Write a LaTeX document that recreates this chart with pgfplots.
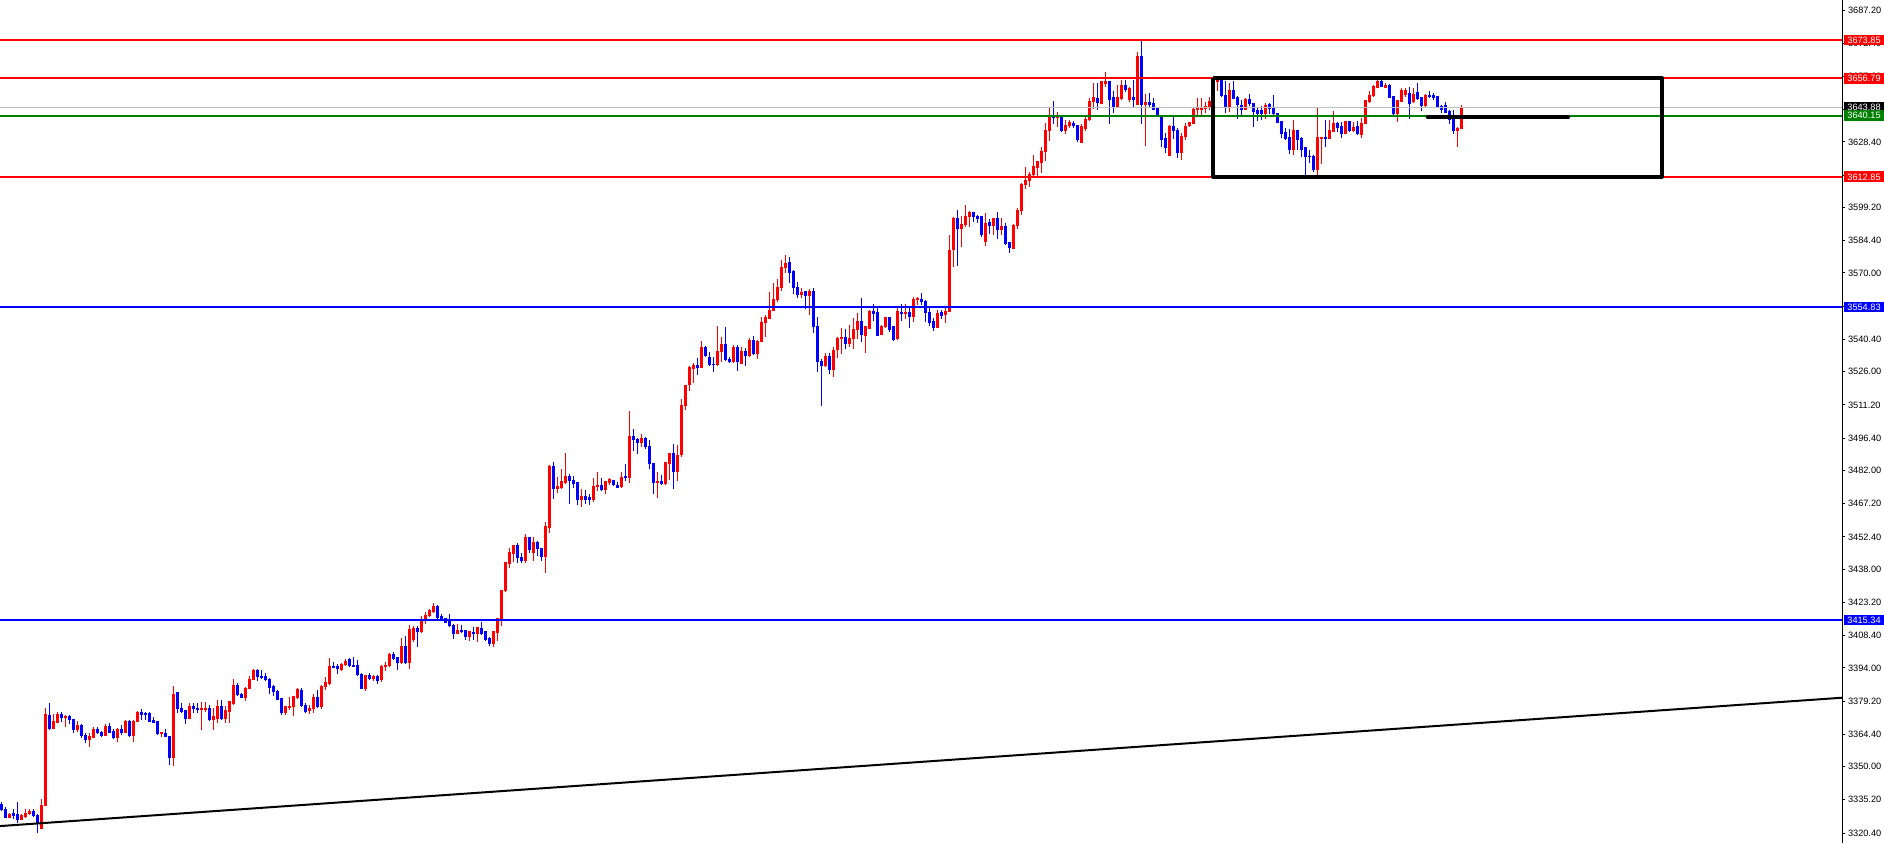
\documentclass[border=0pt]{standalone}
\usepackage{pgfplots}
\pgfplotsset{compat=1.18}
\usepackage{pgfplotstable}
\usepackage{fontspec}
\setmainfont{Liberation Sans}
\definecolor{mtgreen}{RGB}{0,128,0}
\definecolor{mtgray}{RGB}{192,192,192}
\newcommand{\lblfont}{\fontsize{4.6pt}{5pt}\selectfont}
\pgfplotstableread{
k o h l c
0 3333.3 3334.4 3330.3 3330.9
1 3330.9 3332.1 3326.9 3327.4
2 3327.4 3329.4 3326.9 3328.9
3 3329.4 3330.9 3326.5 3328.0
4 3328.7 3334.4 3325.0 3326.2
5 3326.5 3328.8 3326.2 3328.1
6 3327.7 3330.9 3326.9 3329.4
7 3328.9 3330.9 3328.4 3330.2
8 3330.2 3330.9 3327.7 3328.1
9 3328.4 3329.1 3320.5 3324.4
10 3322.2 3335.5 3322.0 3332.9
11 3332.6 3375.9 3332.3 3373.4
12 3373.0 3378.5 3366.3 3366.8
13 3366.8 3373.4 3366.6 3370.0
14 3369.7 3374.5 3369.3 3373.4
15 3373.4 3374.5 3370.0 3371.8
16 3371.9 3373.0 3367.8 3372.5
17 3372.5 3373.0 3369.0 3370.8
18 3371.1 3371.1 3365.1 3366.3
19 3366.3 3370.3 3365.6 3368.5
20 3368.5 3369.0 3362.6 3363.8
21 3364.1 3364.8 3360.4 3361.8
22 3361.8 3364.8 3358.9 3363.6
23 3363.0 3367.5 3362.6 3366.8
24 3366.8 3367.5 3364.5 3365.1
25 3365.3 3365.8 3363.0 3363.6
26 3363.8 3369.0 3363.6 3368.1
27 3368.1 3369.3 3364.8 3365.1
28 3365.6 3366.6 3362.5 3362.9
29 3362.9 3367.3 3361.1 3366.8
30 3366.8 3368.5 3364.1 3365.1
31 3365.3 3370.8 3364.8 3370.0
32 3370.0 3370.8 3363.3 3363.6
33 3363.6 3370.8 3361.1 3370.3
34 3370.0 3374.8 3370.0 3374.0
35 3374.0 3375.5 3370.8 3373.3
36 3373.7 3374.5 3370.8 3373.4
37 3373.7 3374.5 3370.0 3370.0
38 3370.5 3372.2 3369.3 3369.6
39 3370.0 3370.0 3364.1 3364.5
40 3364.8 3365.6 3363.3 3365.1
41 3364.8 3366.6 3363.0 3363.3
42 3363.6 3363.6 3350.7 3353.9
43 3353.9 3385.9 3350.2 3382.3
44 3382.9 3383.4 3373.7 3375.7
45 3376.0 3378.2 3373.7 3374.5
46 3375.2 3375.2 3369.0 3371.2
47 3371.2 3378.2 3371.2 3377.0
48 3377.0 3378.5 3373.7 3375.7
49 3376.0 3378.2 3373.7 3375.4
50 3375.5 3378.9 3366.3 3376.0
51 3375.7 3378.9 3374.5 3376.0
52 3376.0 3377.5 3370.5 3370.8
53 3370.8 3376.0 3366.3 3372.2
54 3371.2 3379.7 3369.3 3377.0
55 3377.0 3379.7 3370.8 3371.2
56 3371.2 3377.0 3369.3 3374.9
57 3374.5 3378.9 3369.6 3378.9
58 3378.2 3389.0 3377.4 3386.4
59 3386.4 3387.1 3381.5 3381.9
60 3382.2 3382.9 3380.4 3380.7
61 3380.7 3385.3 3379.4 3384.9
62 3384.9 3390.4 3384.4 3389.0
63 3388.9 3393.3 3388.6 3393.0
64 3393.0 3393.5 3388.3 3390.1
65 3390.4 3393.0 3388.9 3389.5
66 3390.1 3391.9 3388.3 3388.6
67 3389.0 3389.3 3382.3 3385.2
68 3385.6 3386.4 3381.5 3383.4
69 3383.7 3384.1 3379.7 3380.0
70 3380.4 3380.4 3373.0 3374.0
71 3374.0 3377.0 3373.0 3376.7
72 3376.4 3381.2 3375.2 3377.0
73 3376.7 3381.2 3372.7 3381.2
74 3380.7 3384.9 3380.0 3384.4
75 3384.1 3385.2 3376.4 3377.0
76 3377.4 3378.5 3374.0 3374.5
77 3374.9 3377.4 3373.3 3376.0
78 3375.7 3382.3 3374.0 3380.7
79 3380.7 3384.1 3376.0 3376.7
80 3376.7 3386.3 3375.5 3385.9
81 3385.6 3389.8 3384.1 3387.4
82 3386.8 3398.2 3386.3 3394.8
83 3394.8 3396.7 3393.8 3394.2
84 3394.8 3395.7 3391.3 3393.5
85 3393.3 3396.0 3392.7 3395.7
86 3395.3 3397.8 3394.8 3396.7
87 3397.9 3398.4 3394.2 3395.1
88 3395.3 3398.7 3394.2 3394.8
89 3395.3 3397.5 3390.4 3390.8
90 3391.3 3391.6 3384.7 3384.7
91 3384.7 3390.8 3383.8 3390.8
92 3390.8 3391.6 3388.6 3389.0
93 3389.0 3390.8 3388.3 3390.1
94 3390.1 3390.8 3386.8 3388.3
95 3388.6 3395.3 3387.8 3394.8
96 3394.5 3396.7 3392.7 3395.3
97 3394.8 3400.8 3394.5 3400.2
98 3400.0 3401.2 3397.5 3398.2
99 3398.7 3399.0 3393.0 3396.3
100 3396.3 3407.1 3395.7 3403.7
101 3403.7 3408.2 3395.7 3396.3
102 3396.3 3413.1 3393.6 3411.2
103 3406.4 3412.7 3405.7 3411.6
104 3411.6 3412.7 3403.4 3410.1
105 3410.1 3417.1 3409.4 3414.9
106 3414.9 3419.0 3413.5 3417.5
107 3417.1 3420.1 3416.5 3419.8
108 3419.0 3423.0 3418.6 3421.6
109 3421.6 3422.0 3415.3 3416.4
110 3417.1 3418.0 3415.0 3415.8
111 3416.1 3416.4 3413.8 3414.1
112 3415.3 3418.0 3412.4 3412.7
113 3413.1 3413.4 3406.9 3409.4
114 3409.4 3413.4 3409.4 3410.9
115 3410.9 3413.1 3409.4 3410.0
116 3410.6 3410.9 3406.4 3407.9
117 3407.9 3410.6 3406.1 3410.1
118 3410.0 3412.4 3406.4 3409.4
119 3409.4 3412.4 3405.7 3411.9
120 3411.6 3414.6 3408.6 3409.4
121 3410.1 3410.6 3406.1 3406.4
122 3407.0 3407.6 3403.7 3404.9
123 3404.6 3410.6 3403.4 3410.1
124 3409.7 3416.1 3406.1 3416.1
125 3415.6 3428.7 3412.7 3428.7
126 3428.5 3441.0 3428.0 3440.9
127 3440.6 3447.3 3438.3 3445.3
128 3445.0 3448.7 3441.3 3448.7
129 3448.7 3449.8 3440.6 3443.1
130 3443.2 3445.3 3440.6 3442.0
131 3442.0 3453.6 3440.9 3452.0
132 3452.0 3452.0 3445.3 3446.9
133 3445.3 3452.4 3441.8 3449.8
134 3449.8 3450.7 3444.0 3447.3
135 3447.5 3447.5 3441.8 3443.5
136 3443.5 3459.1 3436.4 3456.9
137 3456.5 3484.4 3454.2 3483.7
138 3483.7 3485.9 3469.1 3473.7
139 3473.7 3478.9 3471.8 3474.7
140 3474.3 3482.6 3473.7 3477.0
141 3476.5 3489.9 3475.9 3479.2
142 3479.5 3480.4 3467.0 3477.3
143 3477.7 3479.5 3474.0 3475.9
144 3476.5 3477.0 3466.6 3468.8
145 3468.8 3473.7 3465.8 3470.3
146 3470.3 3473.3 3467.0 3469.2
147 3469.8 3471.5 3466.6 3468.8
148 3468.8 3478.7 3468.1 3475.0
149 3474.7 3481.4 3473.0 3475.5
150 3475.5 3478.7 3473.0 3473.3
151 3473.3 3477.4 3471.5 3477.0
152 3476.5 3478.5 3475.5 3478.0
153 3477.7 3477.7 3475.0 3475.5
154 3475.5 3477.0 3474.4 3474.4
155 3474.7 3481.1 3474.0 3478.9
156 3479.2 3484.8 3477.4 3478.7
157 3478.7 3508.5 3476.5 3497.3
158 3497.3 3500.4 3490.8 3495.5
159 3495.8 3496.3 3489.3 3494.3
160 3494.3 3498.2 3492.6 3496.3
161 3496.3 3496.7 3491.4 3492.6
162 3492.9 3495.5 3482.6 3484.8
163 3485.1 3485.1 3471.5 3476.5
164 3476.5 3481.1 3469.5 3477.3
165 3477.3 3479.9 3475.5 3475.9
166 3475.9 3485.4 3475.5 3485.4
167 3485.1 3489.6 3477.7 3489.6
168 3489.6 3493.8 3473.7 3481.4
169 3481.4 3493.3 3477.4 3488.9
170 3488.9 3513.7 3488.1 3511.1
171 3510.8 3520.1 3508.9 3520.1
172 3520.1 3528.5 3517.5 3527.8
173 3527.5 3530.0 3521.1 3529.0
174 3529.0 3532.0 3524.5 3527.8
175 3527.8 3539.8 3527.8 3536.9
176 3536.9 3537.4 3532.7 3533.1
177 3532.2 3534.6 3528.5 3529.3
178 3529.4 3532.7 3526.0 3529.1
179 3529.3 3546.4 3528.5 3535.2
180 3534.9 3541.3 3530.5 3538.3
181 3538.3 3545.8 3530.9 3531.5
182 3531.6 3532.4 3530.0 3530.7
183 3530.5 3537.9 3530.0 3536.9
184 3536.9 3537.9 3526.4 3530.5
185 3529.4 3536.9 3529.4 3535.2
186 3535.2 3536.4 3528.7 3533.1
187 3533.1 3540.9 3532.7 3540.1
188 3540.1 3541.9 3533.4 3533.9
189 3533.9 3540.1 3531.6 3539.7
190 3539.4 3550.2 3539.4 3548.0
191 3548.0 3551.3 3541.3 3550.2
192 3549.8 3561.4 3549.3 3553.5
193 3553.2 3565.4 3553.2 3558.3
194 3558.0 3567.2 3557.2 3563.6
195 3563.3 3575.8 3561.8 3572.5
196 3572.5 3578.0 3570.1 3574.3
197 3574.6 3577.0 3565.4 3570.1
198 3570.6 3571.3 3560.6 3563.4
199 3563.6 3565.8 3558.7 3560.5
200 3560.2 3563.1 3558.7 3561.4
201 3561.7 3562.1 3553.9 3559.9
202 3559.9 3562.7 3551.3 3561.7
203 3561.7 3563.1 3543.4 3546.1
204 3546.4 3550.2 3526.0 3530.5
205 3530.7 3531.6 3510.8 3528.5
206 3528.5 3534.2 3528.2 3533.0
207 3533.0 3534.2 3525.0 3526.7
208 3526.7 3536.9 3523.8 3535.7
209 3535.7 3541.3 3532.2 3540.9
210 3540.6 3545.3 3533.9 3541.2
211 3541.2 3544.9 3536.1 3538.3
212 3538.3 3546.8 3536.9 3540.9
213 3540.6 3549.8 3536.1 3545.0
214 3544.6 3552.0 3540.6 3548.3
215 3548.3 3559.0 3539.4 3542.4
216 3542.0 3546.4 3534.5 3546.1
217 3545.3 3553.5 3545.3 3553.0
218 3553.0 3556.2 3548.6 3551.7
219 3552.4 3554.7 3541.9 3542.2
220 3542.4 3546.8 3542.4 3546.4
221 3546.1 3550.5 3545.3 3550.1
222 3550.1 3550.5 3543.8 3544.9
223 3546.1 3546.4 3539.7 3540.4
224 3540.6 3554.5 3540.1 3552.8
225 3552.4 3556.2 3548.7 3551.7
226 3551.7 3556.4 3549.3 3552.3
227 3552.4 3555.0 3545.7 3550.5
228 3550.5 3559.1 3548.3 3558.4
229 3557.9 3559.1 3555.7 3558.7
230 3558.4 3561.2 3555.7 3557.2
231 3557.5 3557.9 3548.0 3552.3
232 3552.4 3555.0 3546.3 3547.8
233 3548.3 3549.8 3544.3 3545.7
234 3545.7 3553.5 3545.7 3552.0
235 3552.3 3553.5 3549.3 3551.2
236 3551.2 3554.7 3547.5 3553.0
237 3552.7 3586.9 3552.7 3580.2
238 3580.2 3595.1 3572.8 3594.3
239 3594.3 3598.0 3573.2 3589.9
240 3589.9 3595.4 3581.7 3591.8
241 3591.7 3600.3 3590.6 3595.4
242 3595.1 3597.6 3590.3 3596.9
243 3596.9 3597.3 3592.5 3595.1
244 3595.1 3595.8 3592.4 3594.0
245 3595.1 3595.4 3585.9 3586.9
246 3583.9 3596.9 3582.2 3592.1
247 3592.4 3593.9 3587.6 3591.1
248 3591.1 3594.3 3586.9 3594.3
249 3594.3 3597.0 3585.0 3589.1
250 3589.1 3594.3 3586.9 3590.9
251 3590.9 3592.4 3582.7 3583.2
252 3583.5 3583.5 3579.0 3581.3
253 3581.0 3591.8 3581.0 3591.4
254 3591.1 3599.1 3589.4 3598.0
255 3597.7 3610.2 3595.8 3609.6
256 3609.2 3617.4 3607.3 3611.4
257 3611.1 3615.1 3608.5 3614.1
258 3613.7 3622.6 3612.9 3617.4
259 3616.9 3620.0 3612.6 3619.6
260 3619.1 3626.0 3614.7 3624.3
261 3624.1 3636.7 3620.0 3633.7
262 3633.3 3643.4 3629.0 3640.0
263 3640.0 3646.6 3636.4 3639.2
264 3639.4 3641.9 3635.2 3640.0
265 3640.0 3640.0 3632.7 3633.4
266 3633.4 3638.2 3631.8 3636.0
267 3635.5 3638.2 3634.5 3637.0
268 3636.7 3637.9 3634.5 3635.5
269 3636.0 3636.0 3628.5 3629.3
270 3628.2 3636.4 3628.2 3635.5
271 3634.5 3639.7 3633.4 3638.5
272 3638.5 3647.8 3637.9 3646.6
273 3646.3 3654.5 3642.9 3648.1
274 3647.8 3654.5 3642.6 3645.9
275 3645.6 3655.6 3645.3 3655.2
276 3654.5 3659.7 3652.7 3655.6
277 3655.6 3655.6 3636.4 3647.4
278 3648.3 3651.2 3641.4 3644.1
279 3643.8 3653.8 3643.8 3648.3
280 3647.5 3656.0 3647.1 3653.8
281 3653.8 3656.0 3650.8 3651.5
282 3647.1 3653.0 3646.3 3652.3
283 3648.3 3656.0 3643.7 3647.1
284 3644.9 3668.6 3644.9 3666.4
285 3666.4 3674.1 3636.4 3644.9
286 3644.9 3649.8 3626.6 3645.9
287 3645.9 3650.1 3644.1 3644.9
288 3645.6 3647.8 3642.6 3642.9
289 3643.4 3643.8 3640.4 3640.7
290 3640.4 3640.4 3626.3 3629.6
291 3630.0 3632.2 3623.3 3626.0
292 3622.1 3636.0 3622.1 3635.5
293 3635.5 3639.7 3629.6 3633.4
294 3633.7 3634.5 3621.1 3623.6
295 3623.6 3632.2 3620.3 3631.0
296 3630.8 3636.7 3629.3 3635.5
297 3635.5 3637.4 3635.2 3637.0
298 3636.7 3643.4 3636.7 3642.9
299 3642.6 3647.8 3639.7 3643.4
300 3642.6 3647.8 3640.4 3643.8
301 3643.4 3646.3 3641.1 3644.4
302 3643.8 3648.6 3642.6 3646.3
303 3646.3 3656.0 3645.6 3655.2
304 3655.3 3656.7 3651.3 3655.7
305 3655.7 3656.7 3648.6 3649.0
306 3649.3 3655.7 3641.1 3644.1
307 3644.1 3654.8 3641.9 3651.5
308 3651.5 3655.7 3647.4 3647.8
309 3648.3 3648.9 3638.5 3644.9
310 3644.9 3647.1 3639.7 3642.6
311 3642.9 3647.8 3642.6 3647.4
312 3647.4 3649.8 3644.4 3645.3
313 3645.6 3645.9 3635.2 3641.9
314 3642.3 3643.4 3637.9 3640.8
315 3642.6 3644.4 3638.2 3640.8
316 3640.8 3645.6 3638.5 3644.9
317 3645.3 3645.9 3640.8 3643.4
318 3643.8 3649.3 3640.4 3640.8
319 3641.1 3641.4 3637.0 3637.0
320 3637.4 3637.7 3630.0 3631.9
321 3632.5 3634.5 3629.3 3630.0
322 3630.4 3634.0 3623.0 3624.8
323 3624.8 3638.2 3622.6 3633.4
324 3633.4 3633.7 3624.8 3629.6
325 3630.0 3630.4 3621.8 3624.8
326 3626.0 3626.0 3613.6 3621.8
327 3622.1 3624.8 3618.9 3621.8
328 3622.1 3622.6 3615.1 3616.2
329 3616.2 3644.1 3613.6 3630.3
330 3629.9 3630.4 3618.5 3630.3
331 3630.3 3638.2 3626.0 3629.7
332 3629.7 3638.2 3629.7 3633.4
333 3633.0 3642.2 3633.0 3636.7
334 3636.7 3637.4 3633.0 3634.8
335 3635.2 3637.4 3630.3 3631.9
336 3631.9 3637.7 3631.9 3637.4
337 3637.4 3637.9 3633.0 3633.4
338 3633.4 3637.4 3633.0 3634.8
339 3635.2 3637.7 3631.5 3631.9
340 3631.5 3638.9 3630.3 3636.7
341 3636.7 3646.8 3636.4 3646.8
342 3646.3 3651.3 3645.9 3649.3
343 3649.0 3653.8 3648.6 3653.0
344 3652.7 3656.7 3652.3 3655.3
345 3655.3 3656.0 3652.7 3653.0
346 3652.7 3654.5 3652.3 3653.8
347 3653.8 3654.2 3648.3 3648.3
348 3648.6 3648.6 3639.9 3640.8
349 3640.8 3647.1 3637.4 3646.8
350 3646.3 3652.3 3646.3 3651.5
351 3649.3 3652.3 3648.6 3651.5
352 3650.1 3653.0 3638.5 3645.6
353 3646.3 3652.3 3645.9 3649.8
354 3650.4 3654.8 3647.1 3647.8
355 3648.3 3648.6 3642.3 3644.4
356 3644.4 3649.8 3644.1 3649.3
357 3649.3 3651.3 3647.8 3648.6
358 3649.2 3650.1 3647.1 3648.3
359 3648.6 3648.6 3643.8 3644.1
360 3644.4 3644.9 3641.1 3642.9
361 3644.9 3646.3 3641.1 3641.6
362 3642.2 3642.6 3636.4 3638.2
363 3638.5 3642.6 3631.9 3633.4
364 3633.4 3634.9 3626.0 3634.5
365 3634.2 3644.9 3634.2 3643.8
}\candles
\begin{document}
\begin{tikzpicture}
\begin{axis}[
  at={(0,0)}, anchor=south west,
  scale only axis, width=921pt, height=421.5pt,
  xmin=-0.375, xmax=460.125,
  ymin=3315.95, ymax=3691.66,
  axis x line=none,
  axis y line*=right,
  axis line style={black, line width=0.5pt},
  ytick={3320.4,3335.2,3350.0,3364.4,3379.2,3394.0,3408.4,3423.2,3438.0,3452.4,3467.2,3482.0,3496.4,3511.2,3526.0,3540.4,3555.2,3570.0,3584.4,3599.2,3613.6,3628.4,3642.8,3657.6,3672.4,3687.2},
  tick align=outside,
  major tick length=1.5pt,
  tick style={black, line width=0.5pt},
  yticklabel style={font=\lblfont, anchor=west, inner sep=0pt, xshift=1.3pt,
    /pgf/number format/.cd, fixed, fixed zerofill, precision=2, 1000 sep={}, assume math mode=true},
  clip=true,
]
% wicks
\addplot[draw=none, mark=none, error bars/.cd, y dir=both, y explicit, error mark=none,
  error bar style={draw=red, line width=0.5pt}]
  table[x=k, y expr={(\thisrow{h}+\thisrow{l})/2}, y error expr={(\thisrow{h}-\thisrow{l})/2},
  restrict expr to domain={\thisrow{c}-\thisrow{o}}{0:1000}] {\candles};
\addplot[draw=none, mark=none, error bars/.cd, y dir=both, y explicit, error mark=none,
  error bar style={draw=blue, line width=0.5pt}]
  table[x=k, y expr={(\thisrow{h}+\thisrow{l})/2}, y error expr={(\thisrow{h}-\thisrow{l})/2},
  restrict expr to domain={\thisrow{c}-\thisrow{o}}{-1000:-0.001}] {\candles};
% bodies
\addplot[draw=none, mark=none, error bars/.cd, y dir=both, y explicit, error mark=none,
  error bar style={draw=red, line width=1.5pt}]
  table[x=k, y expr={(\thisrow{o}+\thisrow{c})/2}, y error expr={abs(\thisrow{c}-\thisrow{o})/2+0.15},
  restrict expr to domain={\thisrow{c}-\thisrow{o}}{0:1000}] {\candles};
\addplot[draw=none, mark=none, error bars/.cd, y dir=both, y explicit, error mark=none,
  error bar style={draw=blue, line width=1.5pt}]
  table[x=k, y expr={(\thisrow{o}+\thisrow{c})/2}, y error expr={abs(\thisrow{c}-\thisrow{o})/2+0.15},
  restrict expr to domain={\thisrow{c}-\thisrow{o}}{-1000:-0.001}] {\candles};
% level lines
\addplot[mtgray, line width=0.5pt] coordinates {(-0.375,3643.88) (460.125,3643.88)};
\addplot[red, line width=1pt] coordinates {(-0.375,3673.85) (460.125,3673.85)};
\addplot[red, line width=1pt] coordinates {(-0.375,3656.79) (460.125,3656.79)};
\addplot[red, line width=1pt] coordinates {(-0.375,3612.85) (460.125,3612.85)};
\addplot[mtgreen, line width=1pt] coordinates {(-0.375,3640.15) (460.125,3640.15)};
\addplot[blue, line width=1pt] coordinates {(-0.375,3554.83) (460.125,3554.83)};
\addplot[blue, line width=1pt] coordinates {(-0.375,3415.34) (460.125,3415.34)};
% trend line
\addplot[black, line width=1pt] coordinates {(-0.375,3323.5) (460.125,3380.7)};
% rectangle
\addplot[black, line width=2pt, line join=round] coordinates {(302.9,3657.0) (415.1,3657.0) (415.1,3612.9) (302.9,3612.9) (302.9,3657.0)};
% short thick line
\addplot[black, line width=2.2pt, line cap=round] coordinates {(356.6,3639.4) (391.6,3639.4)};
\coordinate (L1) at (axis cs:460.125,3673.85);
\coordinate (L2) at (axis cs:460.125,3656.79);
\coordinate (L3) at (axis cs:460.125,3643.88);
\coordinate (L4) at (axis cs:460.125,3640.15);
\coordinate (L5) at (axis cs:460.125,3612.85);
\coordinate (L6) at (axis cs:460.125,3554.83);
\coordinate (L7) at (axis cs:460.125,3415.34);
\end{axis}
\tikzset{lbl/.style={anchor=west, xshift=0.6pt, minimum width=20.4pt, minimum height=5.4pt, inner sep=0pt, text=white, font=\lblfont}}
\node[lbl, fill=red] at (L1) {3673.85};
\node[lbl, fill=red] at (L2) {3656.79};
\node[lbl, fill=black] at (L3) {3643.88};
\node[lbl, fill=mtgreen] at (L4) {3640.15};
\node[lbl, fill=red] at (L5) {3612.85};
\node[lbl, fill=blue] at (L6) {3554.83};
\node[lbl, fill=blue] at (L7) {3415.34};
\pgfresetboundingbox
\path[use as bounding box] (0,0) rectangle (942pt,421.5pt);
\end{tikzpicture}
\end{document}
